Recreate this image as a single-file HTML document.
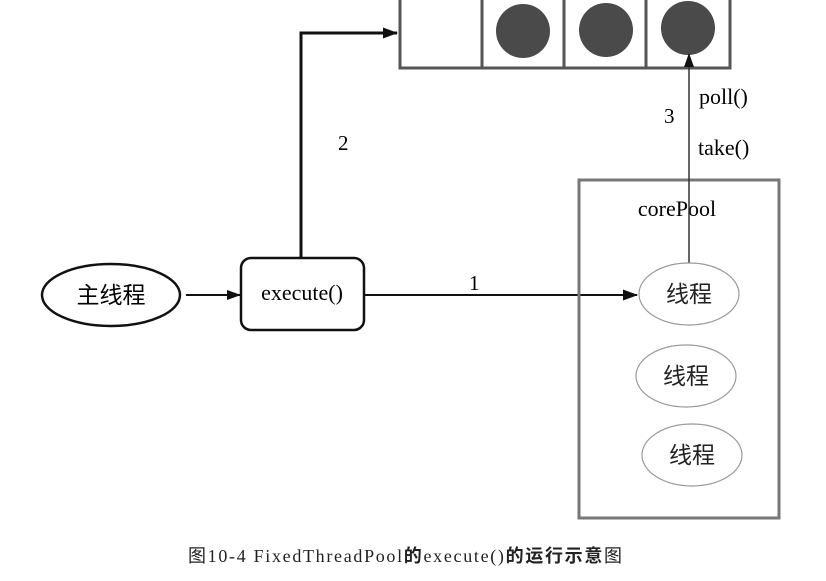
<!DOCTYPE html>
<html><head><meta charset="utf-8"><style>body{margin:0;background:#fff}svg{display:block}</style></head>
<body>
<svg width="826" height="581" viewBox="0 0 826 581" xmlns="http://www.w3.org/2000/svg" font-family="'Liberation Serif','Noto Serif CJK SC',serif">
<defs>
<marker id="a" markerWidth="14" markerHeight="10" refX="13" refY="5" orient="auto" markerUnits="userSpaceOnUse"><path d="M0,0 L14,5 L0,10 z" fill="#111"/></marker>
<marker id="b" markerWidth="15" markerHeight="11" refX="14" refY="5.5" orient="auto" markerUnits="userSpaceOnUse"><path d="M0,0 L15,5.5 L0,11 z" fill="#111"/></marker>
</defs>
<rect x="400" y="-5" width="330" height="73" fill="#fff" stroke="#555" stroke-width="3"/>
<line x1="482" y1="-5" x2="482" y2="68" stroke="#555" stroke-width="3"/>
<line x1="564" y1="-5" x2="564" y2="68" stroke="#555" stroke-width="3"/>
<line x1="646" y1="-5" x2="646" y2="68" stroke="#555" stroke-width="3"/>
<circle cx="523" cy="31" r="27" fill="#4a4a4a"/>
<circle cx="606" cy="30" r="27" fill="#4a4a4a"/>
<circle cx="688" cy="28" r="27" fill="#4a4a4a"/>
<polyline points="301,258 301,33 397,33" fill="none" stroke="#111" stroke-width="3" marker-end="url(#b)"/>
<text x="338" y="150" font-size="21">2</text>
<ellipse cx="111" cy="295" rx="69" ry="31" fill="#fff" stroke="#111" stroke-width="2.5"/>
<text x="111" y="303" font-size="23" text-anchor="middle" font-family="'Liberation Serif','Noto Sans CJK SC',sans-serif">主线程</text>
<line x1="186" y1="295" x2="240" y2="295" stroke="#111" stroke-width="2" marker-end="url(#a)"/>
<rect x="241" y="258" width="123" height="72" rx="10" fill="#fff" stroke="#111" stroke-width="2.5"/>
<text x="302" y="300" font-size="22" text-anchor="middle">execute()</text>
<line x1="364" y1="295" x2="637" y2="295" stroke="#111" stroke-width="2" marker-end="url(#b)"/>
<text x="469" y="290" font-size="21">1</text>
<rect x="579" y="180" width="200" height="338" fill="none" stroke="#777" stroke-width="3"/>
<text x="677" y="216" font-size="22" text-anchor="middle">corePool</text>
<line x1="689" y1="263" x2="689" y2="54" stroke="#333" stroke-width="1.5" marker-end="url(#a)"/>
<text x="699" y="104" font-size="22">poll()</text>
<text x="664" y="123" font-size="21">3</text>
<text x="698" y="155" font-size="22">take()</text>
<g fill="#fff" stroke="#999" stroke-width="1.2">
<ellipse cx="689" cy="294" rx="50" ry="31"/>
<ellipse cx="686" cy="376" rx="50" ry="31"/>
<ellipse cx="692" cy="455" rx="50" ry="31"/>
</g>
<g font-size="23" text-anchor="middle" font-family="'Liberation Serif','Noto Sans CJK SC',sans-serif" fill="#222">
<text x="689" y="302">线程</text>
<text x="686" y="384">线程</text>
<text x="692" y="463">线程</text>
</g>
<text x="405" y="562" font-size="18" text-anchor="middle" fill="#222" textLength="434" font-family="'Liberation Serif','Noto Sans CJK SC',serif">图10-4  FixedThreadPool<tspan font-weight="bold">的</tspan>execute()<tspan font-weight="bold">的运行示意</tspan>图</text>
</svg>
</body></html>
